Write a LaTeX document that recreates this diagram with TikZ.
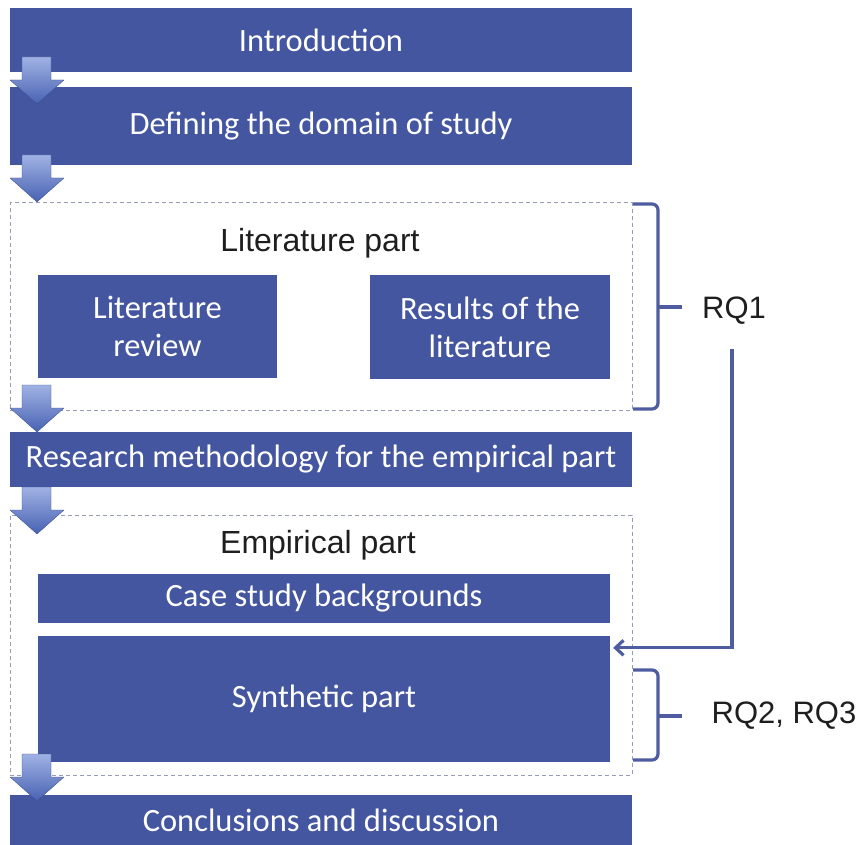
\documentclass[tikz,border=0pt]{standalone}
\usepackage{fontspec}
\setmainfont{Carlito}
\newfontfamily\labelfont{Liberation Sans}
\usetikzlibrary{arrows.meta}

\definecolor{boxblue}{RGB}{68,86,160}
\definecolor{bracecol}{RGB}{78,92,160}
\definecolor{framecol}{RGB}{150,156,185}
\definecolor{arrowlight}{RGB}{160,178,228}
\definecolor{arrowdark}{RGB}{72,98,178}
\definecolor{labeltext}{RGB}{30,30,30}

% shaded block arrow pointing down, top edge at y = #1
\newcommand{\flowarrow}[1]{%
  \begin{scope}[shift={(0,#1)}]
    \shade[top color=arrowlight, bottom color=arrowdark, draw=arrowdark!80!black, line width=0.3pt]
      (22,0) -- (51,0) -- (51,23) -- (64,23) -- (37,47) -- (10,23) -- (22,23) -- cycle;
  \end{scope}}

\begin{document}
\begin{tikzpicture}[x=1pt,y=-1pt,
  bluebox/.style={fill=boxblue, draw=none, text=white, inner sep=0pt,
    font=\fontsize{32.5}{38}\selectfont, align=center},
  frame/.style={draw=framecol, line width=1pt, dash pattern=on 4pt off 3pt,
    inner sep=0pt},
  partlabel/.style={font=\labelfont\fontsize{32}{38}\selectfont, text=labeltext, inner sep=0pt},
  rqlabel/.style={font=\labelfont\fontsize{31}{37}\selectfont, text=labeltext, inner sep=0pt},
  bracket/.style={draw=bracecol, line width=3.2pt, rounded corners=6pt},
  link/.style={draw=bracecol, line width=3.2pt, -{Straight Barb[length=8pt,width=15pt]}}]
\useasboundingbox (0,0) rectangle (865,845);

% main sequence of sections
\node[bluebox, minimum width=622pt, minimum height=64pt] (intro) at (321,40) {Introduction};
\node[bluebox, minimum width=622pt, minimum height=78pt] (domain) at (321,126) {Defining the domain of study};

% literature part
\node[frame, minimum width=622pt, minimum height=207pt] (litframe) at (321,306.5) {};
\node[partlabel] (littitle) at (320,243) {Literature part};
\node[bluebox, minimum width=239pt, minimum height=103pt] (litreview) at (157.5,326.5) {Literature\\review};
\node[bluebox, minimum width=240pt, minimum height=104pt] (litresults) at (490,327) {Results of the\\literature};

\node[bluebox, minimum width=622pt, minimum height=55pt] (method) at (321,459.5) {Research methodology for the empirical part};

% empirical part
\node[frame, minimum width=622pt, minimum height=260pt] (empframe) at (321,645) {};
\node[partlabel] (emptitle) at (318,545) {Empirical part};
\node[bluebox, minimum width=572pt, minimum height=49pt] (cases) at (324,598.5) {Case study backgrounds};
\node[bluebox, minimum width=572pt, minimum height=126pt] (synth) at (324,699) {Synthetic part};

\node[bluebox, minimum width=622pt, minimum height=50pt] (concl) at (321,820) {Conclusions and discussion};

% research questions
\node[rqlabel] (rq1) at (734,311) {RQ1};
\node[rqlabel] (rq23) at (784,716) {RQ2, RQ3};

\draw[bracket] (633,204) -- (658,204) -- (658,409) -- (633,409);
\draw[bracecol, line width=3.2pt] (658,307) -- (682,307);
\draw[bracket] (633,670) -- (658,670) -- (658,760) -- (633,760);
\draw[bracecol, line width=3.2pt] (658,716) -- (682,716);

\draw[link] ([xshift=-2pt,yshift=-24pt]rq1.south) |- ([xshift=3pt,yshift=-12pt]synth.north east);

% flow arrows between the sections
\flowarrow{57}
\flowarrow{155}
\flowarrow{385}
\flowarrow{487}
\flowarrow{754}
\end{tikzpicture}
\end{document}
